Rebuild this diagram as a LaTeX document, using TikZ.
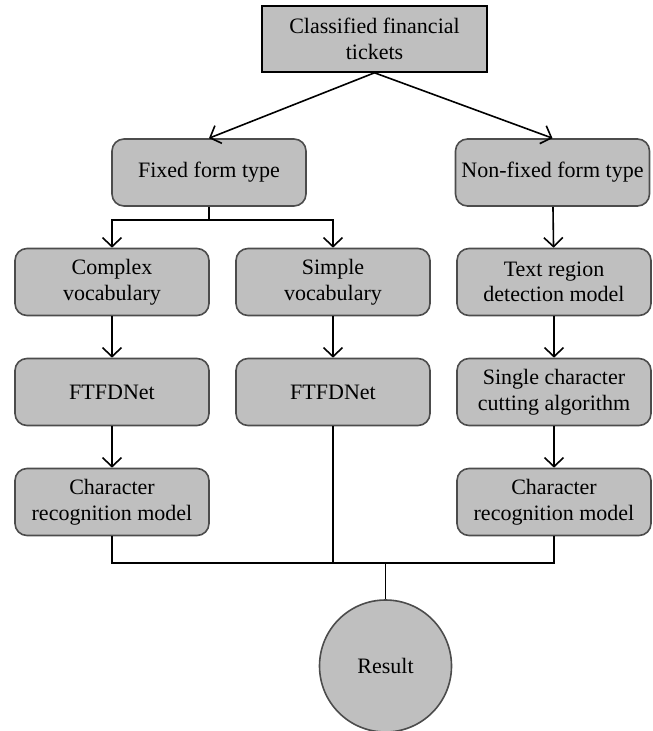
\documentclass[tikz,border=0pt]{standalone}
\usepackage{fontspec}
\setmainfont{Liberation Serif}
\usepackage{tikz}
\usetikzlibrary{arrows.meta, positioning}

\tikzset{
    stage/.style={draw=black!70, fill=black!25, rounded corners=6pt, align=center,
        minimum width=97pt, minimum height=33.5pt, inner sep=0pt,
        font=\fontsize{11}{12.8}\selectfont},
    topbox/.style={stage, draw=black, rounded corners=0pt, minimum width=112.5pt, minimum height=33pt},
    result/.style={circle, draw=black!70, fill=black!25, minimum size=66pt, inner sep=0pt,
        font=\fontsize{11}{12.8}\selectfont},
    arr/.style={-{Straight Barb[length=4.5pt,width=9.5pt]}},
}

\begin{document}
\begin{tikzpicture}[x=0.5pt,y=-0.5pt,node distance=55pt and 110.5pt,on grid,line width=0.8pt]
        \useasboundingbox (0,0) rectangle (652,731);

        \node[topbox]   (tickets)   at (374.5,39)           {Classified financial\\tickets};
        \node[stage]    (fixed)     at (209,172.5)          {Fixed form type};
        \node[stage]    (nonfixed)  at (552.5,172.5)        {Non-fixed form type};

        \node[stage]    (complex)   at (112,282)            {Complex\\vocabulary};
        \node[stage]    (simple)    [right=of complex]      {Simple\\vocabulary};
        \node[stage]    (textreg)   [right=of simple]       {Text region\\detection model};

        \node[stage]    (ftfdA)     [below=of complex]      {FTFDNet};
        \node[stage]    (ftfdB)     [below=of simple]       {FTFDNet};
        \node[stage]    (cutting)   [below=of textreg]      {Single character\\cutting algorithm};

        \node[stage]    (charA)     [below=of ftfdA]        {Character\\recognition model};
        \node[stage]    (charB)     [below=of cutting]      {Character\\recognition model};

        \node[result]   (result)    at (385.5,666)          {Result};

        \coordinate (split) at (209,220);
        \coordinate (join)  at (385.5,563);

        \path[arr]  (tickets.south) edge (fixed.north)
        (tickets.south) edge (nonfixed.north)
        (nonfixed) edge (textreg)
        (complex) edge (ftfdA)
        (simple) edge (ftfdB)
        (textreg) edge (cutting)
        (ftfdA) edge (charA)
        (cutting) edge (charB)
        ;
        \draw (fixed.south) -- (split);
        \draw[arr] (split) -| (complex.north);
        \draw[arr] (split) -| (simple.north);
        \draw (charA.south) |- (join);
        \draw (charB.south) |- (join);
        \draw (ftfdB.south) -- (ftfdB.south |- join);
        \draw (join) -- (result.north);
    \end{tikzpicture}
\end{document}
